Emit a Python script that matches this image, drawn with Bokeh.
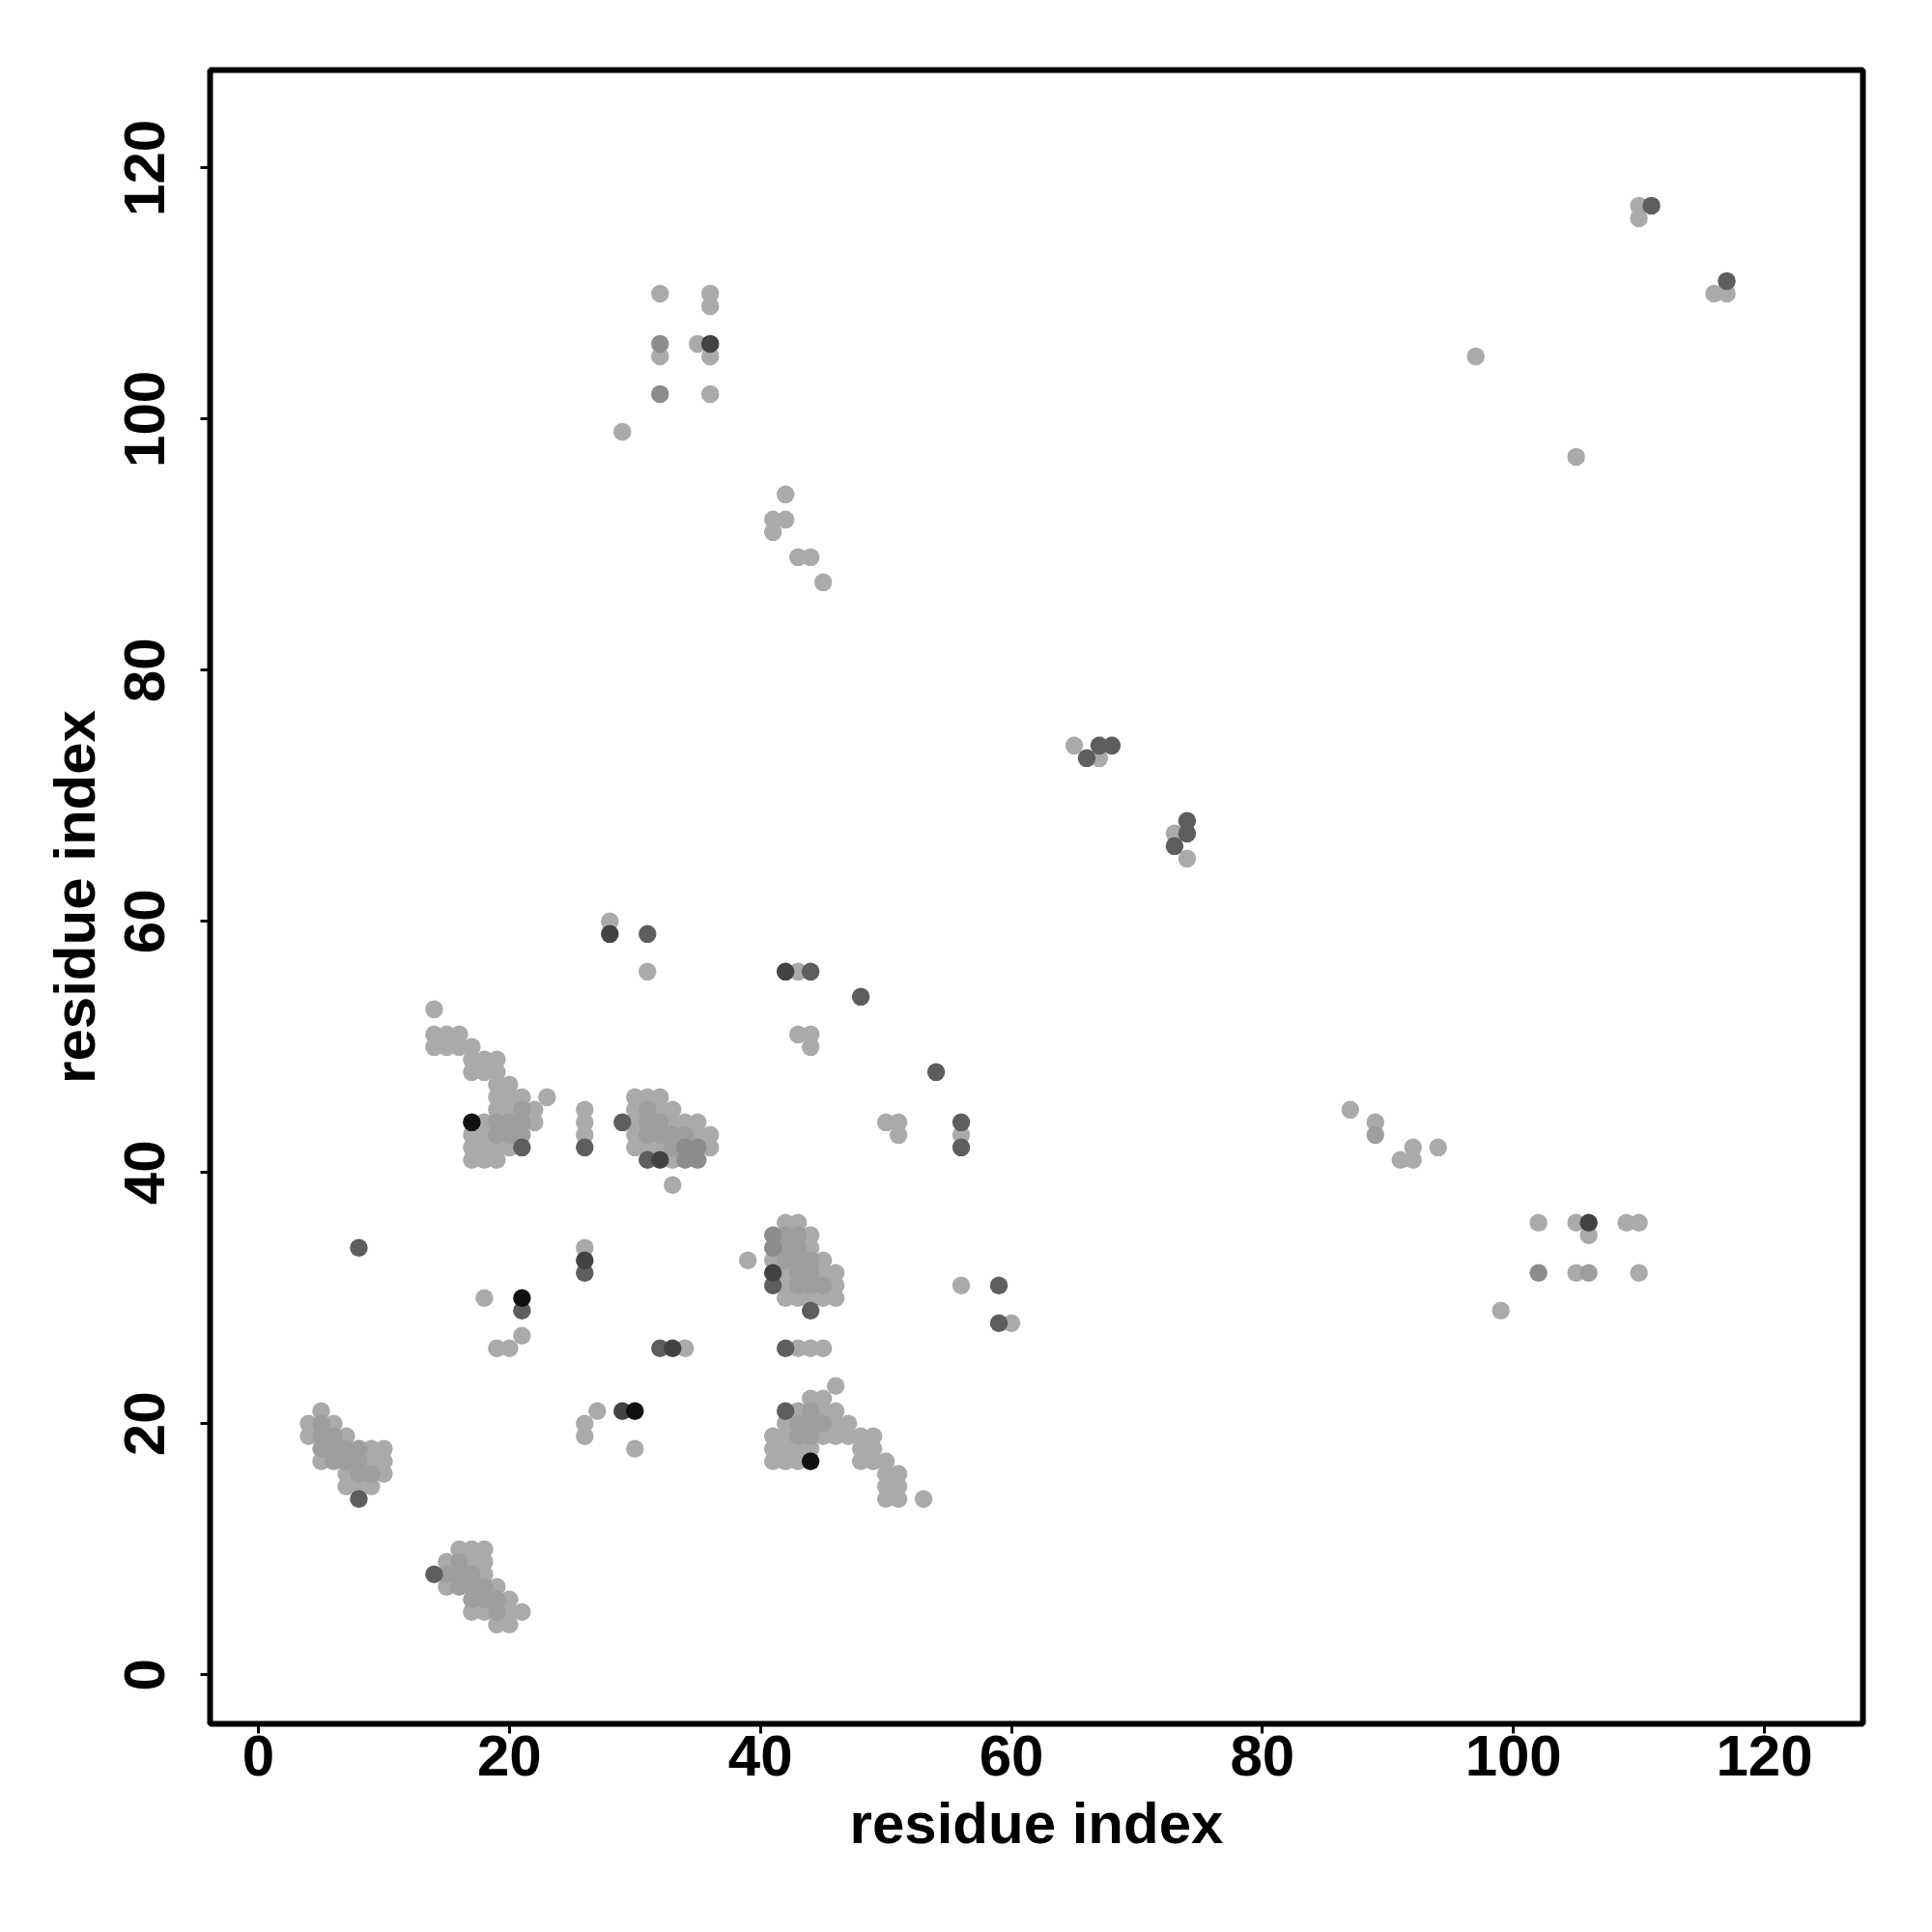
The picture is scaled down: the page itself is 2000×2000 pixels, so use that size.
from bokeh.plotting import figure
from bokeh.models import FixedTicker, Range1d
from bokeh.embed import file_html
from bokeh.resources import INLINE

# Contact map: residue pairs grouped by score shade (light -> black)
light_x = [5, 4, 6, 4, 7, 9, 10, 5, 9, 10, 7, 10, 7, 8, 9,
           16, 17, 18, 15, 17, 18, 18, 15, 19, 20, 17, 18, 20, 21, 19, 20,
           18, 19, 20, 21, 26, 34, 27, 26, 26, 30,
           39, 42, 43, 44, 44, 41, 45, 42, 45, 46, 42, 46, 42, 43, 44, 45, 46,
           43, 44, 45,
           46, 44, 45, 43, 45, 46, 42, 46, 47, 41, 42, 45, 46, 47, 48, 49,
           41, 42, 43, 44, 48, 49, 41, 42, 43, 48, 49, 50, 50, 51, 50, 51, 50, 51, 53,
           14, 14, 15, 16, 14, 15, 16, 17, 17, 18, 19, 17, 18, 19, 19, 20,
           19, 20, 21, 23, 19, 20, 22, 18, 22, 17, 18, 17, 18, 19, 20, 17, 18, 19,
           26, 26, 26,
           30, 31, 32, 30, 32, 33, 30, 33, 34, 35, 30, 35, 36, 30, 31, 32, 36, 33, 33,
           32, 36, 36, 32, 35, 36, 36, 29, 42, 41, 42, 41, 43, 44, 45,
           28, 31, 43, 43, 44, 44, 50, 51, 51, 56,
           65, 67, 73, 74,
           87, 89, 92, 91, 92, 94,
           102, 105, 106, 109, 110, 105, 110, 99,
           110, 110, 116, 117, 97, 105,
           56, 60]
light_y = [21, 20, 20, 19, 19, 18, 18, 17, 17, 17, 16, 16, 15, 15, 15,
           10, 10, 10, 9, 9, 9, 8, 7, 7, 6, 5, 5, 5, 5, 4, 4,
           30, 26, 26, 27, 34, 26, 21, 20, 19, 18,
           33, 36, 36, 35, 34, 33, 33, 32, 32, 32, 31, 31, 30, 30, 30, 30, 30,
           26, 26, 26,
           23, 22, 22, 21, 21, 21, 20, 20, 20, 19, 19, 19, 19, 19, 19, 19,
           18, 18, 18, 18, 18, 18, 17, 17, 17, 17, 17, 17, 16, 16, 15, 15, 14, 14, 14,
           53, 51, 51, 51, 50, 50, 50, 50, 49, 49, 49, 48, 48, 48, 47, 47,
           46, 46, 46, 46, 45, 45, 45, 44, 44, 43, 43, 42, 42, 42, 42, 41, 41, 41,
           45, 44, 43,
           46, 46, 46, 45, 45, 45, 44, 44, 44, 44, 43, 43, 43, 42, 42, 42, 42, 41, 39,
           110, 110, 109, 105, 106, 105, 102, 99, 94, 92, 92, 91, 89, 89, 87,
           60, 56, 56, 51, 51, 50, 44, 44, 43, 43,
           74, 73, 67, 65,
           45, 44, 42, 41, 41, 42,
           36, 36, 35, 36, 36, 32, 32, 29,
           117, 116, 110, 110, 105, 97,
           31, 28]

medium_x = [5, 5, 6, 5, 6, 7, 8, 6, 7, 8, 8, 9,
            16, 15, 16, 17, 16, 17, 18, 17, 18, 19, 19,
            42, 43, 42, 43, 42, 43, 44, 43, 44, 43, 44, 45,
            44, 43, 44, 45, 43, 44,
            21, 19, 20, 21, 19, 20, 21,
            31, 31, 32, 31, 32, 33, 34, 33,
            89, 106]
medium_y = [20, 19, 19, 18, 18, 18, 18, 17, 17, 17, 16, 16,
            9, 8, 8, 8, 7, 7, 7, 6, 6, 6, 5,
            35, 35, 34, 34, 33, 33, 33, 32, 32, 31, 31, 31,
            21, 20, 20, 20, 19, 19,
            45, 44, 44, 44, 43, 43, 43,
            45, 44, 44, 43, 43, 43, 43, 42,
            43, 32]

mid_dark_x = [41, 41, 34, 35, 34, 35, 32, 32, 102]
mid_dark_y = [35, 34, 42, 42, 41, 41, 106, 102, 32]

dark_x = [8, 14, 8, 21, 26, 32, 41, 44, 42, 42, 21, 26, 29, 31, 31, 44, 48, 54,
          56, 56, 66, 67, 68, 74, 74, 73, 111, 117, 59, 59]
dark_y = [14, 8, 34, 29, 32, 26, 31, 29, 26, 21, 42, 42, 44, 41, 59, 56, 54, 48,
          44, 42, 73, 74, 74, 68, 67, 66, 117, 111, 31, 28]

darker_x = [26, 33, 29, 41, 32, 36, 28, 42, 106]
darker_y = [33, 26, 21, 32, 41, 106, 59, 56, 36]

black_x = [21, 30, 44, 17]
black_y = [30, 21, 17, 44]

tick_values = [0, 20, 40, 60, 80, 100, 120]
axis_title = "residue index"

groups = [
    (light_x, light_y, "#AAAAAA"),
    (medium_x, medium_y, "#9E9E9E"),
    (mid_dark_x, mid_dark_y, "#8C8C8C"),
    (dark_x, dark_y, "#5E5E5E"),
    (darker_x, darker_y, "#424242"),
    (black_x, black_y, "#111111"),
]

p = figure(frame_width=1711, frame_height=1712,
           x_range=Range1d(-3.85, 127.85), y_range=Range1d(-3.9, 127.8),
           output_backend="svg", toolbar_location=None,
           min_border_left=217, min_border_top=72,
           min_border_right=50, min_border_bottom=180,
           background_fill_color="white", border_fill_color="white")

for gx, gy, col in groups:
    p.scatter(gx, gy, marker="circle", size=18.5, fill_color=col,
              line_color=None)

p.grid.visible = False
p.outline_line_color = "black"
p.outline_line_width = 6

for ax in (p.xaxis, p.yaxis):
    ax.ticker = FixedTicker(ticks=tick_values)
    ax.axis_line_color = None
    ax.major_tick_line_color = "black"
    ax.major_tick_line_width = 3
    ax.major_tick_in = 0
    ax.major_tick_out = 10
    ax.minor_tick_line_color = None
    ax.major_label_text_font = "Liberation Sans"
    ax.major_label_text_font_style = "bold"
    ax.major_label_text_font_size = "60px"
    ax.major_label_text_color = "black"
    ax.axis_label = axis_title
    ax.axis_label_text_font = "Liberation Sans"
    ax.axis_label_text_font_style = "bold"
    ax.axis_label_text_font_size = "60px"
    ax.axis_label_text_color = "black"

p.xaxis.major_label_standoff = 2
p.xaxis.axis_label_standoff = 13
p.yaxis.major_label_orientation = "vertical"
p.yaxis.major_label_standoff = 37
p.yaxis.axis_label_standoff = 16

open("out.html", "w").write(file_html(p, INLINE))
